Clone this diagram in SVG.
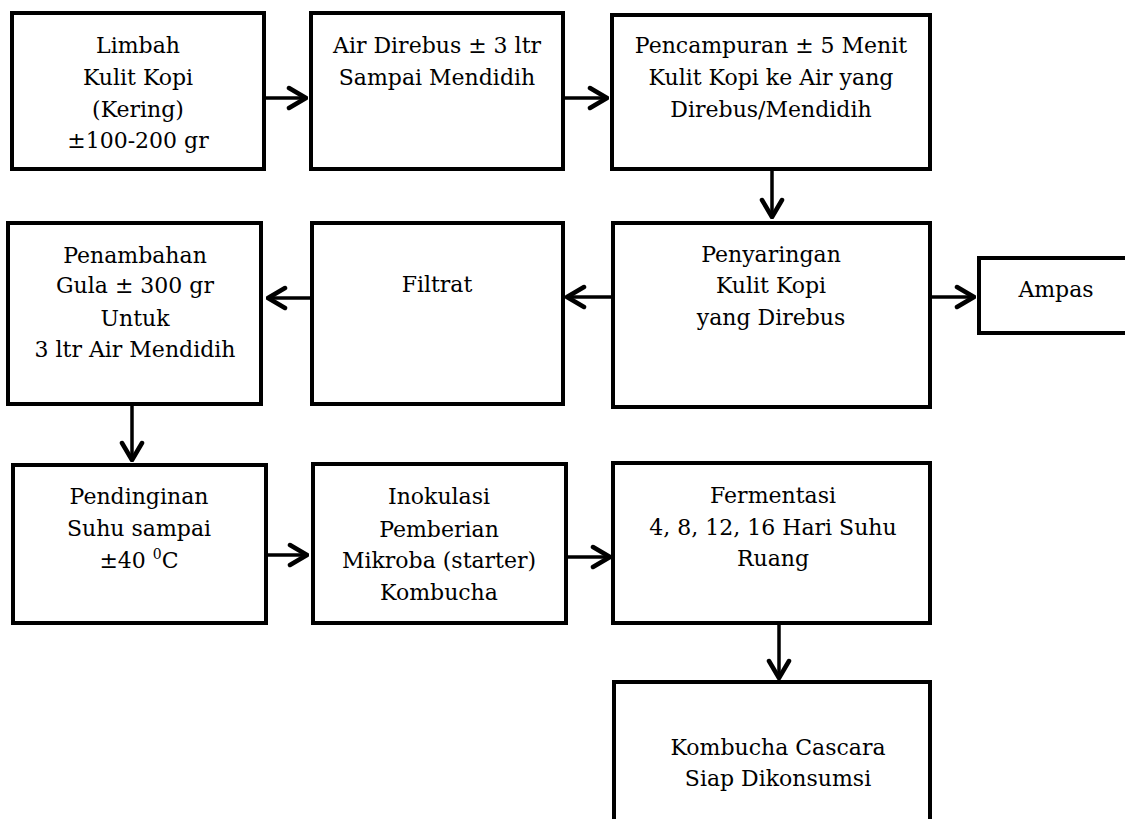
<svg xmlns="http://www.w3.org/2000/svg" width="1125" height="819" viewBox="0 0 1125 819">
<style>
.box{fill:#fff;stroke:#000;stroke-width:4}
.t{font-family:"DejaVu Serif","Liberation Serif",serif;font-size:22px;fill:#000;text-anchor:middle}
.c{fill:none;stroke:#000;stroke-width:3.5}
</style>
<defs>
<marker id="arr" viewBox="-20 -13 22 26" refX="0" refY="0" markerWidth="22" markerHeight="26" markerUnits="userSpaceOnUse" orient="auto">
<path d="M-17,-10 L0,0 L-17,10" fill="none" stroke="#000" stroke-width="4.5" stroke-linecap="round" stroke-linejoin="round"/>
</marker>
</defs>
<rect width="1125" height="819" fill="#fff"/>
<g id="connectors">
<line class="c" x1="264" y1="98" x2="306" y2="98" marker-end="url(#arr)"/>
<line class="c" x1="563" y1="98" x2="607" y2="98" marker-end="url(#arr)"/>
<line class="c" x1="772" y1="169" x2="772" y2="217" marker-end="url(#arr)"/>
<line class="c" x1="930" y1="297" x2="974" y2="297" marker-end="url(#arr)"/>
<line class="c" x1="613" y1="297" x2="567" y2="297" marker-end="url(#arr)"/>
<line class="c" x1="312" y1="298" x2="268" y2="298" marker-end="url(#arr)"/>
<line class="c" x1="132" y1="404" x2="132" y2="460" marker-end="url(#arr)"/>
<line class="c" x1="264" y1="555" x2="307" y2="555" marker-end="url(#arr)"/>
<line class="c" x1="566" y1="557" x2="610" y2="557" marker-end="url(#arr)"/>
<line class="c" x1="779" y1="623" x2="779" y2="678" marker-end="url(#arr)"/>
</g>
<g id="n1"><rect class="box" x="12" y="13" width="252" height="156"/>
<text class="t" x="138" y="53">Limbah</text><text class="t" x="138" y="85">Kulit Kopi</text><text class="t" x="138" y="117">(Kering)</text><text class="t" x="138" y="148">±100-200 gr</text></g>
<g id="n2"><rect class="box" x="311" y="13" width="252" height="156"/>
<text class="t" x="437" y="53">Air Direbus ± 3 ltr</text><text class="t" x="437" y="85">Sampai Mendidih</text></g>
<g id="n3"><rect class="box" x="612" y="15" width="318" height="154"/>
<text class="t" x="771" y="53">Pencampuran ± 5 Menit</text><text class="t" x="771" y="85">Kulit Kopi ke Air yang</text><text class="t" x="771" y="117">Direbus/Mendidih</text></g>
<g id="n4"><rect class="box" x="613" y="223" width="317" height="184"/>
<text class="t" x="771" y="262">Penyaringan</text><text class="t" x="771" y="293">Kulit Kopi</text><text class="t" x="771" y="325">yang Direbus</text></g>
<g id="n5"><rect class="box" x="979" y="258" width="154" height="75"/>
<text class="t" x="1056" y="297">Ampas</text></g>
<g id="n6"><rect class="box" x="312" y="223" width="251" height="181"/>
<text class="t" x="437" y="292">Filtrat</text></g>
<g id="n7"><rect class="box" x="8" y="223" width="253" height="181"/>
<text class="t" x="135" y="263">Penambahan</text><text class="t" x="135" y="293">Gula ± 300 gr</text><text class="t" x="135" y="326">Untuk</text><text class="t" x="135" y="357">3 ltr Air Mendidih</text></g>
<g id="n8"><rect class="box" x="13" y="465" width="253" height="158"/>
<text class="t" x="139" y="504">Pendinginan</text><text class="t" x="139" y="536">Suhu sampai</text><text class="t" x="139" y="568">±40 <tspan font-size="14" dy="-9">0</tspan><tspan dy="9">C</tspan></text></g>
<g id="n9"><rect class="box" x="313" y="464" width="253" height="159"/>
<text class="t" x="439" y="504">Inokulasi</text><text class="t" x="439" y="537">Pemberian</text><text class="t" x="439" y="568">Mikroba (starter)</text><text class="t" x="439" y="600">Kombucha</text></g>
<g id="n10"><rect class="box" x="613" y="463" width="317" height="160"/>
<text class="t" x="773" y="503">Fermentasi</text><text class="t" x="773" y="535">4, 8, 12, 16 Hari Suhu</text><text class="t" x="773" y="566">Ruang</text></g>
<g id="n11"><rect class="box" x="614" y="682" width="316" height="150"/>
<text class="t" x="778" y="755">Kombucha Cascara</text><text class="t" x="778" y="786">Siap Dikonsumsi</text></g>
</svg>
